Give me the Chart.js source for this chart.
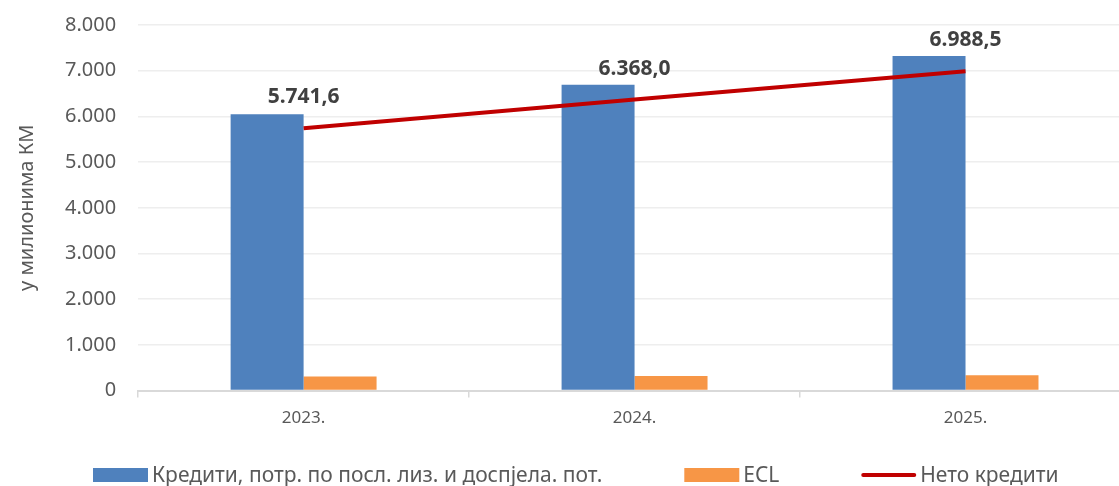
<!DOCTYPE html>
<html>
<head>
<meta charset="utf-8">
<script src="https://cdn.jsdelivr.net/npm/chart.js@4.4.1/dist/chart.umd.min.js"></script>
<style>
  html, body { margin: 0; padding: 0; background: #fff; overflow: hidden; }
  #wrap { position: relative; top: -9px; width: 1131px; height: 495px; }
</style>
</head>
<body>
<div id="wrap"><canvas id="myChart"></canvas></div>
<script>
// podaci procijenjeni sa slike
const categories = ["2023.", "2024.", "2025."];
const credits = [6048, 6690, 7322];
const ecl = [306, 322, 334];
const netCredits = [5741.6, 6368.0, 6988.5];
const seriesNames = ["Кредити, потр. по посл. лиз. и доспјела. пот.", "ECL", "Нето кредити"];
const yTitle = "у милионима КМ";

const FONT = "'Noto Sans', sans-serif";
const TEXT = "#595959";

function fmt(v, dec) {
  const parts = v.toFixed(dec).split(".");
  parts[0] = parts[0].replace(/\B(?=(\d{3})+(?!\d))/g, ".");
  return parts.join(",");
}

// oznake iznad linije
const lineLabels = {
  id: "lineLabels",
  afterDatasetsDraw(chart) {
    const meta = chart.getDatasetMeta(2);
    const ctx = chart.ctx;
    ctx.save();
    ctx.font = "bold 21px " + FONT;
    ctx.fillStyle = "#404040";
    ctx.textAlign = "center";
    ctx.textBaseline = "middle";
    meta.data.forEach((pt, i) => {
      ctx.fillText(fmt(netCredits[i], 1), pt.x, pt.y - 31);
    });
    ctx.restore();
  }
};

// legenda na dnu
const bottomLegend = {
  id: "bottomLegend",
  afterDraw(chart) {
    const ctx = chart.ctx;
    const ds = chart.data.datasets;
    const boxW = 55, gap = 82, y = 484;
    ctx.save();
    ctx.font = "21px " + FONT;
    ctx.textBaseline = "middle";
    const widths = ds.map(d => boxW + 4 + ctx.measureText(d.label).width);
    let x = 93;
    ds.forEach((d, i) => {
      if (d.type === "line") {
        ctx.strokeStyle = d.borderColor;
        ctx.lineWidth = 4;
        ctx.lineCap = "round";
        ctx.beginPath();
        ctx.moveTo(x + 2, y);
        ctx.lineTo(x + boxW - 2, y);
        ctx.stroke();
      } else {
        ctx.fillStyle = d.backgroundColor;
        ctx.fillRect(x, y - 7, boxW, 14);
      }
      ctx.fillStyle = TEXT;
      ctx.fillText(d.label, x + boxW + 4, y + 1);
      x += widths[i] + gap;
    });
    ctx.restore();
  }
};

const ctx = document.getElementById("myChart");
const myChart = new Chart(ctx, {
  type: "bar",
  data: {
    labels: categories,
    datasets: [
      {
        label: seriesNames[0],
        data: credits,
        backgroundColor: "#4F81BD",
        order: 2
      },
      {
        label: seriesNames[1],
        data: ecl,
        backgroundColor: "#F79646",
        order: 2
      },
      {
        type: "line",
        label: seriesNames[2],
        data: netCredits,
        borderColor: "#C00000",
        backgroundColor: "#C00000",
        borderWidth: 4,
        pointRadius: 0,
        tension: 0,
        order: 0
      }
    ]
  },
  options: {
    responsive: true,
    maintainAspectRatio: false,
    animation: false,
    categoryPercentage: 0.441,
    barPercentage: 1,
    layout: { padding: { left: 15, top: 0, right: 0, bottom: 48 } },
    plugins: {
      legend: { display: false },
      tooltip: { enabled: false }
    },
    scales: {
      x: {
        grid: {
          offset: true,
          drawOnChartArea: false,
          drawTicks: true,
          tickLength: 7,
          color: "#d9d9d9",
          lineWidth: 1.5
        },
        border: { color: "#d9d9d9", width: 2 },
        ticks: { color: TEXT, font: { family: FONT, size: 17 }, padding: 10 }
      },
      y: {
        min: 0,
        max: 8000,
        border: { display: false },
        grid: { color: "#eeeeee", lineWidth: 1.5, drawTicks: false },
        ticks: {
          stepSize: 1000,
          color: TEXT,
          padding: 22,
          font: { family: FONT, size: 20 },
          callback: v => fmt(v, 0)
        },
        title: {
          display: true,
          text: yTitle,
          color: TEXT,
          font: { family: FONT, size: 20 },
          padding: { top: 0, bottom: 4 }
        }
      }
    }
  },
  plugins: [lineLabels, bottomLegend]
});
</script>
</body>
</html>
